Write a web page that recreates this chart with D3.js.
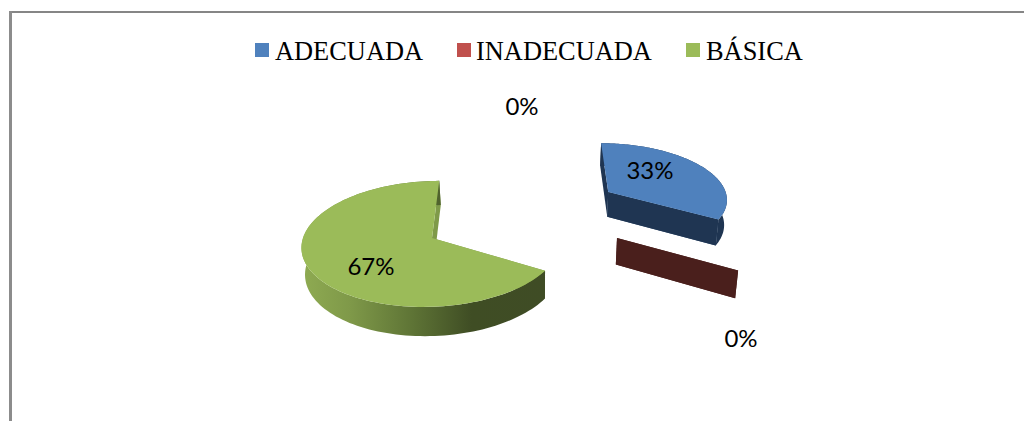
<!DOCTYPE html>
<html><head><meta charset="utf-8">
<script src="https://cdn.jsdelivr.net/npm/d3@7/dist/d3.min.js"></script>
<style>html,body{margin:0;padding:0;background:#fff;overflow:hidden}svg{display:block}</style>
</head><body>
<script>
const categories = ["ADECUADA", "INADECUADA", "BÁSICA"];
const values = [33.33, 0, 66.67];
const percentLabels = ["33%", "0%", "67%"];
const colors = ["#4F81BD", "#C0504D", "#9BBB59"];
const sideColors = ["#1F3552", "#4A1F1C", "url(#greenSide)"];
const cutColors = ["#2A4A70", "#4A1F1C", "#7F9A49"];

const W = 1024, H = 421;
const svg = d3.select("body").append("svg").attr("width", W).attr("height", H);

const defs = svg.append("defs");
const grad = defs.append("linearGradient").attr("id", "greenSide")
  .attr("gradientUnits", "userSpaceOnUse").attr("x1", 301).attr("x2", 545).attr("y1", 0).attr("y2", 0);
[[0, "#8FAB52"], [0.2, "#7F9949"], [0.45, "#5F7536"], [0.7, "#3F4D24"], [1, "#3F4C25"]]
  .forEach(s => grad.append("stop").attr("offset", s[0]).attr("stop-color", s[1]));

// frame
svg.append("rect").attr("x", 9).attr("y", 11).attr("width", W - 9).attr("height", 2).attr("fill", "#868686");
svg.append("rect").attr("x", 9).attr("y", 11).attr("width", 3).attr("height", H - 11).attr("fill", "#8C8C8C");

// legend
const legendLayout = [{sx: 255, tx: 275}, {sx: 457, tx: 476}, {sx: 686, tx: 706}];
categories.forEach((c, i) => {
  svg.append("rect").attr("x", legendLayout[i].sx).attr("y", 43).attr("width", 14).attr("height", 14).attr("fill", colors[i]);
  svg.append("text").attr("x", legendLayout[i].tx).attr("y", 60)
    .attr("font-family", "'Liberation Serif'").attr("font-size", 26.4).attr("fill", "#000").text(c);
});

// perspective projection of the pie plane
const vx = 517, vy = -430, planeH = 668, k = 0.000725, thick = 26.5;
function project(X, Z, lower) {
  const h = 1 / (1 - k * Z);
  let x = vx + X * h;
  let y = vy + planeH * h;
  if (lower) { y += thick * h; x += (540 - x) * 0.015; }
  return [x, y];
}
const offsets = [{X: 98, Z: -102, R: 126}, {X: 100, Z: 0, R: 128}, {X: -85, Z: 0, R: 129}];

const pie = d3.pie().sort(null).value(d => d).startAngle(0).endAngle(2 * Math.PI);
const arcs = pie(values);
const line = d3.line();

arcs.forEach((a, i) => {
  const o = offsets[i];
  const rimAt = t => [o.X + o.R * Math.sin(t), o.Z - o.R * Math.cos(t)];
  const ts = d3.range(0, 121).map(j => a.startAngle + (a.endAngle - a.startAngle) * j / 120);
  const top = ts.map(t => { const p = rimAt(t); return project(p[0], p[1], false); });
  const bottom = ts.map(t => { const p = rimAt(t); return project(p[0], p[1], true); });
  const apexTop = project(o.X, o.Z, false), apexBottom = project(o.X, o.Z, true);
  const g = svg.append("g");
  // cut faces
  g.append("path").attr("fill", cutColors[i])
    .attr("d", line([apexTop, top[top.length - 1], bottom[bottom.length - 1], apexBottom]) + "Z");
  g.append("path").attr("fill", i === 2 ? cutColors[2] : sideColors[i])
    .attr("d", line([apexTop, top[0], bottom[0], apexBottom]) + "Z");
  // rim wall
  g.append("path").attr("fill", sideColors[i])
    .attr("d", line(top.concat(bottom.slice().reverse())) + "Z");
  // the end cut of the upper slice faces the viewer
  if (i === 0) g.append("path").attr("fill", sideColors[0])
    .attr("d", line([apexTop, top[top.length - 1], bottom[bottom.length - 1], apexBottom]) + "Z");
  // top face
  if (a.endAngle > a.startAngle)
    g.append("path").attr("fill", colors[i]).attr("d", line([apexTop].concat(top)) + "Z");
});

// data labels
const labelLayout = [{x: 650, y: 179}, {x: 522, y: 115}, {x: 371, y: 275}, {x: 741, y: 347}];
[percentLabels[0], percentLabels[1], percentLabels[2], percentLabels[1]].forEach((t, i) => {
  svg.append("text").attr("x", labelLayout[i].x).attr("y", labelLayout[i].y)
    .attr("text-anchor", "middle").attr("font-family", "Lato").attr("font-size", 24)
    .attr("fill", "#000").text(t);
});
</script>
</body></html>
